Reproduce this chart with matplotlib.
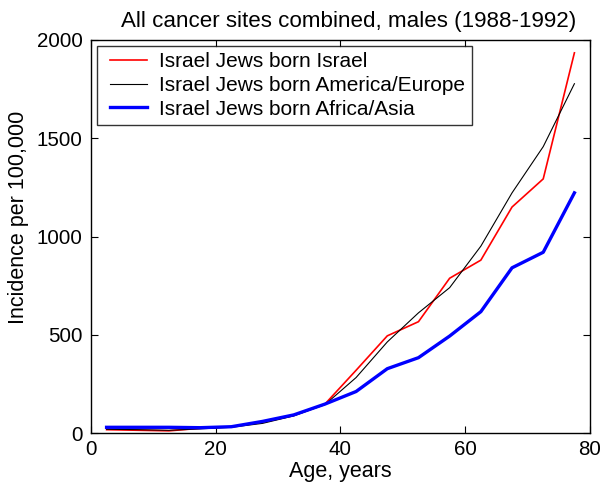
import matplotlib
matplotlib.use("Agg")
import matplotlib.pyplot as plt
from matplotlib.lines import Line2D
from matplotlib.legend_handler import HandlerLine2D

ages = [2.5, 7.5, 12.5, 17.5, 22.5, 27.5, 32.5, 37.5, 42.5, 47.5, 52.5, 57.5, 62.5, 67.5, 72.5, 77.5]
born_israel = [18, 15, 12, 25, 33, 55, 90, 148, 320, 495, 567, 788, 880, 1150, 1293, 1934]
born_america_europe = [20, 18, 15, 22, 30, 50, 88, 145, 283, 464, 612, 740, 951, 1222, 1457, 1777]
born_africa_asia = [30, 30, 30, 28, 33, 60, 93, 148, 212, 328, 384, 494, 618, 841, 920, 1222]

labels = ["Israel Jews born Israel", "Israel Jews born America/Europe", "Israel Jews born Africa/Asia"]
title = "All cancer sites combined, males (1988-1992)"
xlabel = "Age, years"
ylabel = "Incidence per 100,000"
xticks = [0, 20, 40, 60, 80]
yticks = [0, 500, 1000, 1500, 2000]

plt.rcParams['font.family'] = ['Liberation Sans', 'DejaVu Sans']

fig = plt.figure(figsize=(6.01, 4.92), dpi=100)
ax = fig.add_axes([0.1514, 0.1195, 0.8303, 0.7995])

ax.plot(ages, born_israel, color='#ff0000', lw=1.2, label=labels[0])
ax.plot(ages, born_america_europe, color='black', lw=0.8, label=labels[1])
ax.plot(ages, born_africa_asia, color='#0000ff', lw=2.4, label=labels[2])

ax.set_xlim(0, 80)
ax.set_ylim(0, 2000)
ax.set_xticks(xticks)
ax.set_yticks(yticks)
ax.tick_params(direction='in', top=True, right=True, length=5, width=0.8, labelsize=14.8)
ax.tick_params(axis='y', pad=6)
ax.tick_params(axis='x', pad=5)
for s in ax.spines.values():
    s.set_linewidth(1.0)

ax.set_title(title, fontsize=16.1, pad=9, x=0.516)
ax.set_xlabel(xlabel, fontsize=15.5, labelpad=1)
ax.set_ylabel(ylabel, fontsize=15.5)
ax.yaxis.set_label_coords(-0.125, 0.548)

leg = ax.legend(loc='upper left', fontsize=15, frameon=True, fancybox=False,
                edgecolor='black', borderpad=0.3, labelspacing=0.22, handlelength=2.1,
                handletextpad=0.58, borderaxespad=0.3,
                handler_map={Line2D: HandlerLine2D(xpad=0.31)})
leg.get_frame().set_linewidth(1.0)

fig.savefig("out.png", dpi=100)
